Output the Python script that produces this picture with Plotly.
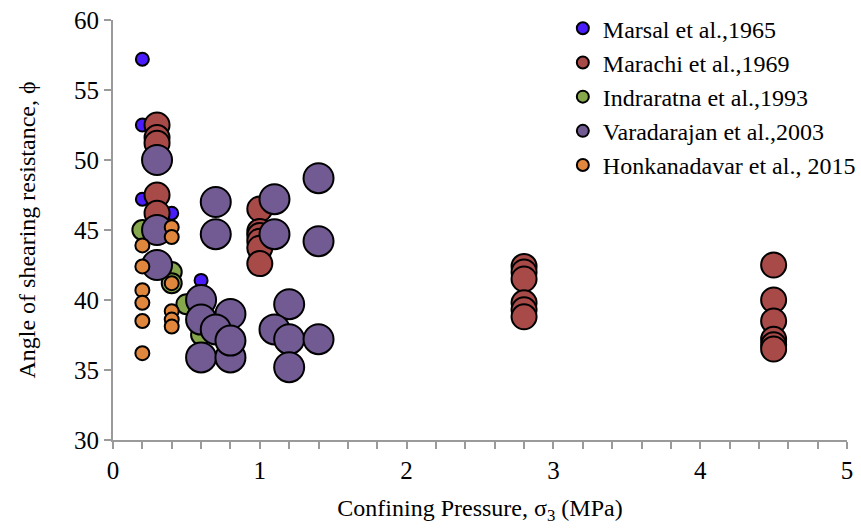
import plotly.graph_objects as go

# Data
marsal_x = [0.2, 0.2, 0.2, 0.4, 0.6]
marsal_y = [57.2, 52.5, 47.2, 46.2, 41.4]

marachi_x = [0.3, 0.3, 0.3, 0.3, 0.3,
             1.0, 1.0, 1.0, 1.0, 1.0, 1.0,
             2.8, 2.8, 2.8, 2.8, 2.8, 2.8,
             4.5, 4.5, 4.5, 4.5, 4.5, 4.5]
marachi_y = [52.5, 51.6, 51.2, 47.5, 46.2,
             46.5, 44.9, 44.6, 44.2, 43.7, 42.6,
             42.4, 42.0, 41.5, 39.8, 39.3, 38.8,
             42.5, 40.0, 38.5, 37.2, 36.8, 36.5]

indra_x = [0.2, 0.4, 0.4, 0.5, 0.6]
indra_y = [45.0, 42.0, 41.2, 39.7, 37.5]

vara_x = [0.3, 0.3, 0.3, 0.7, 0.7, 1.1, 1.1, 1.4, 1.4,
          0.6, 0.6, 0.8, 0.7, 0.6, 0.8, 0.8,
          1.2, 1.1, 1.2, 1.4, 1.2]
vara_y = [50.0, 45.0, 42.5, 47.0, 44.7, 47.2, 44.7, 48.7, 44.2,
          40.0, 38.6, 39.0, 37.9, 35.9, 35.9, 37.1,
          39.7, 37.9, 37.2, 37.2, 35.2]

honk_x = [0.2, 0.2, 0.2, 0.2, 0.2, 0.2,
          0.4, 0.4, 0.4, 0.4, 0.4, 0.4]
honk_y = [43.9, 42.4, 40.7, 39.8, 38.5, 36.2,
          45.2, 44.5, 41.2, 39.2, 38.6, 38.1]

x_ticks = [0, 1, 2, 3, 4, 5]
y_ticks = [30, 35, 40, 45, 50, 55, 60]

series = [
    ("Marsal et al.,1965", marsal_x, marsal_y, "#4A1CFB", 13),
    ("Marachi et al.,1969", marachi_x, marachi_y, "#A84A47", 25),
    ("Indraratna et al.,1993", indra_x, indra_y, "#87A74C", 20),
    ("Varadarajan et al.,2003", vara_x, vara_y, "#715B92", 30),
    ("Honkanadavar et al., 2015", honk_x, honk_y, "#E1873D", 14),
]

fig = go.Figure()
for name, xs, ys, col, sz in series:
    fig.add_trace(go.Scatter(
        x=xs, y=ys, mode="markers", name=name,
        marker=dict(color=col, size=sz, line=dict(color="black", width=2)),
    ))

font_family = "Liberation Serif, Times New Roman, serif"
fig.update_layout(
    width=861, height=530,
    margin=dict(l=113, r=0, t=0, b=90),
    plot_bgcolor="white", paper_bgcolor="white",
    font=dict(family=font_family, color="black", size=24),
    showlegend=True,
    legend=dict(x=0.603, y=0.986, xanchor="left", yanchor="top",
                font=dict(size=24, family=font_family),
                itemsizing="constant", tracegroupgap=0,
                bgcolor="rgba(0,0,0,0)", itemwidth=30),
)
fig.update_xaxes(
    domain=[0, 736 / 748], automargin=False,
    range=[0, 5], tickvals=x_ticks, showgrid=False, zeroline=False,
    showline=True, linecolor="#9a9a9a", linewidth=2,
    ticks="outside", ticklen=7, tickcolor="#9a9a9a", tickwidth=2,
    minor=dict(dtick=0.2, ticks="outside", ticklen=7, tickcolor="#9a9a9a", tickwidth=2),
    tickfont=dict(size=25),
    title=dict(text="Confining Pressure, σ<sub>3</sub> (MPa)", font=dict(size=24), standoff=16),
)
fig.update_yaxes(
    domain=[0, 420 / 440], automargin=False,
    range=[30, 60], tickvals=y_ticks, showgrid=False, zeroline=False,
    showline=True, linecolor="#9a9a9a", linewidth=2,
    ticks="outside", ticklen=7, tickcolor="#9a9a9a", tickwidth=2,
    tickfont=dict(size=25),
    title=dict(text="Angle of shearing resistance, ϕ", font=dict(size=24), standoff=32),
)

fig.write_html("out.html")
